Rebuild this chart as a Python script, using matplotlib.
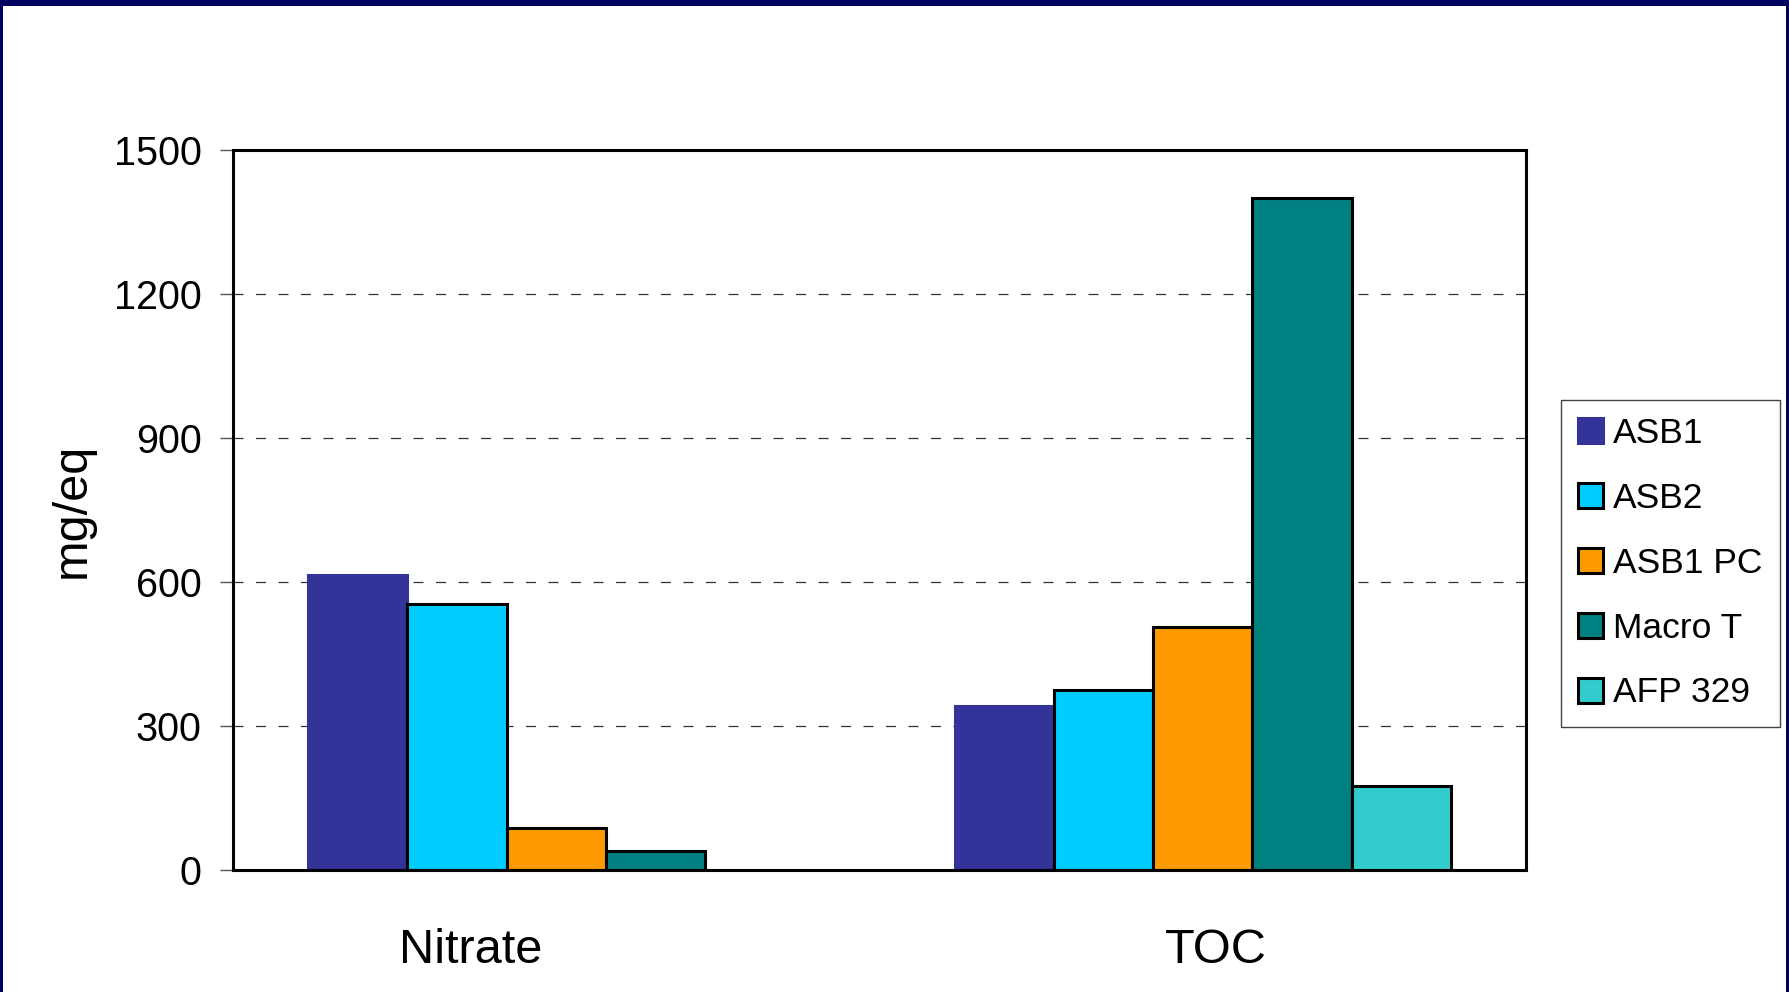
import numpy as np
import matplotlib
matplotlib.use("Agg")
import matplotlib.pyplot as plt
from matplotlib.patches import Rectangle

plt.rcParams['font.family'] = ['Liberation Sans', 'DejaVu Sans']

categories = ["Nitrate", "TOC"]
series = ["ASB1", "ASB2", "ASB1 PC", "Macro T", "AFP 329"]
asb1 = [615, 341]
asb2 = [555, 375]
asb1_pc = [88, 506]
macro_t = [40, 1400]
afp_329 = [0, 175]
values = [asb1, asb2, asb1_pc, macro_t, afp_329]
colors = ["#333399", "#00CCFF", "#FF9900", "#008080", "#33CCCC"]
edges = ["#333399", "black", "black", "black", "black"]
yticks = [0, 300, 600, 900, 1200, 1500]
label_shift = [-0.133, 0.02]

W, H = 1789, 992
fig = plt.figure(figsize=(W / 100, H / 100), dpi=100)
fig.patch.set_facecolor("white")
ax = fig.add_axes([233 / W, 1 - 870 / H, (1526 - 233) / W, (870 - 150) / H])

x = np.arange(len(categories))
bw = 0.1535
for i, (name, vals) in enumerate(zip(series, values)):
    ax.bar(x + (i - 2) * bw, vals, width=bw, color=colors[i], edgecolor=edges[i],
           linewidth=2.2, label=name, zorder=3)

ax.set_xlim(-0.5, 1.5)
ax.set_ylim(0, 1500)
ax.set_yticks(yticks)
ax.set_yticklabels([str(t) for t in yticks])
ax.set_xticks(x + np.array(label_shift))
ax.set_xticklabels(categories)
ax.tick_params(axis='x', length=0, pad=42, labelsize=35)
ax.tick_params(axis='y', length=9.5, width=1, color="#555555", pad=13, labelsize=28.5)
for sp in ax.spines.values():
    sp.set_linewidth(2.2)
    sp.set_color("black")
    sp.set_zorder(4)
ax.yaxis.grid(True, color="#333333", linewidth=0.9, linestyle=(0, (8, 10)), zorder=1)
ax.set_axisbelow(True)

ax.set_ylabel("mg/eq", fontsize=35)
ax.yaxis.set_label_coords(-0.107, 0.5)

leg = fig.legend(loc="upper left", bbox_to_anchor=(1561 / W, 1 - 400 / H),
                 bbox_transform=fig.transFigure, fontsize=25.5, frameon=True,
                 fancybox=False, framealpha=1, edgecolor="#444444",
                 borderpad=0.48, labelspacing=0.9, handlelength=0.7,
                 handleheight=0.7, handletextpad=0.3, borderaxespad=0)
leg.get_frame().set_linewidth(1.0)

navy = "#00005E"
fig.patches.append(Rectangle((0, 1 - 6 / H), 1, 6 / H, transform=fig.transFigure,
                             facecolor=navy, edgecolor="none", zorder=10))
fig.patches.append(Rectangle((0, 0), 3 / W, 1, transform=fig.transFigure,
                             facecolor=navy, edgecolor="none", zorder=10))
fig.patches.append(Rectangle((1 - 3 / W, 0), 3 / W, 1, transform=fig.transFigure,
                             facecolor=navy, edgecolor="none", zorder=10))

fig.savefig("out.png", dpi=100, facecolor="white")
